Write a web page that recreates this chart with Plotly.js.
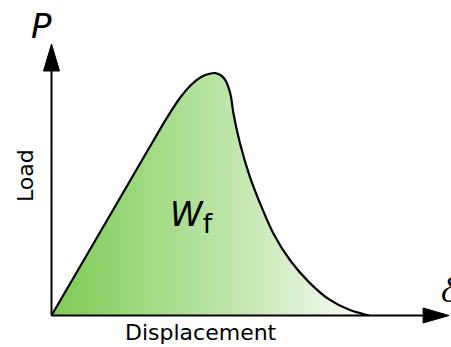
<!DOCTYPE html>
<html>
<head>
<meta charset="utf-8">
<script src="https://cdn.plot.ly/plotly-3.0.1.min.js"></script>
<style>
  html, body { margin: 0; padding: 0; background: #ffffff; }
  #chart { width: 451px; height: 347px; }
</style>
</head>
<body>
<div id="chart"></div>
<script>
// Load–displacement curve; the area under it is the work of fracture W_f
const displacement = [0, 1.4, 2.4, 2.9, 3.21, 3.5, 3.75, 3.95, 4.1, 4.24, 4.35, 4.43, 4.49,
                      4.54, 4.71, 4.96, 5.21, 5.54, 5.96, 6.46, 6.96, 7.46, 7.79, 7.96];
const load = [0, 3.2, 5.49, 6.62, 7.25, 7.7, 7.96, 8.06, 8.08, 8.0, 7.84, 7.58, 7.28,
              6.8, 5.75, 4.62, 3.75, 2.75, 1.85, 1.08, 0.52, 0.18, 0.05, 0];

const axisLabels = { x: 'Displacement', y: 'Load', xSymbol: 'δ', ySymbol: 'P' };
const areaLabel = '<i>W</i><sub><span style="font-size:27px">f</span></sub>';

// axis extents (data units)
const xMax = 9.94, yMax = 9.05;
const xLineEnd = 9.3, yLineEnd = 8.2;

const curve = {
  type: 'scatter',
  mode: 'lines',
  x: displacement,
  y: load,
  line: { color: '#000000', width: 2.2, shape: 'spline', smoothing: 0.8 },
  fill: 'tozeroy',
  fillgradient: {
    type: 'horizontal',
    colorscale: [
      [0, '#7ccb54'],
      [0.35, '#a6dc8a'],
      [0.57, '#c0e6ab'],
      [0.82, '#e3f3da'],
      [1, '#fbfdfa']
    ]
  },
  hoverinfo: 'skip',
  showlegend: false
};

const shapes = [
  // y axis
  { type: 'line', xref: 'x', yref: 'y', x0: 0, y0: 0, x1: 0, y1: yLineEnd,
    line: { color: '#000000', width: 2 } },
  { type: 'path', xref: 'x', yref: 'y',
    path: `M 0,${yMax} L -0.2,8.15 L 0.2,8.15 Z`,
    fillcolor: '#000000', line: { color: '#000000', width: 1 } },
  // x axis
  { type: 'line', xref: 'x', yref: 'y', x0: 0, y0: 0, x1: xLineEnd, y1: 0,
    line: { color: '#000000', width: 2 } },
  { type: 'path', xref: 'x', yref: 'y',
    path: `M ${xMax},0 L 9.29,0.25 L 9.29,-0.25 Z`,
    fillcolor: '#000000', line: { color: '#000000', width: 1 } }
];

const sans = 'DejaVu Sans, Verdana, sans-serif';
const annotations = [
  { x: -0.26, y: 9.65, xref: 'x', yref: 'y', text: '<i>' + axisLabels.ySymbol + '</i>',
    showarrow: false, font: { family: sans, size: 34, color: '#000000' } },
  { x: -0.66, y: 4.65, xref: 'x', yref: 'y', text: axisLabels.y, textangle: -90,
    showarrow: false, font: { family: sans, size: 22, color: '#000000' } },
  { x: 3.74, y: -0.55, xref: 'x', yref: 'y', text: axisLabels.x,
    showarrow: false, font: { family: sans, size: 22, color: '#000000' } },
  { x: 9.68, y: 0.85, xref: 'x', yref: 'y', xanchor: 'left',
    text: '<i>' + axisLabels.xSymbol + '</i>',
    showarrow: false, font: { family: 'Liberation Serif, Times New Roman, serif', size: 36, color: '#000000' } },
  { x: 3.5, y: 3.3, xref: 'x', yref: 'y', text: areaLabel,
    showarrow: false, font: { family: sans, size: 33, color: '#000000' } }
];

const layout = {
  width: 451,
  height: 347,
  margin: { l: 0, r: 0, t: 0, b: 0 },
  paper_bgcolor: '#ffffff',
  plot_bgcolor: '#ffffff',
  xaxis: { range: [-1.2875, 9.9875], visible: false, fixedrange: true },
  yaxis: { range: [-1.05, 10.5167], visible: false, fixedrange: true },
  shapes: shapes,
  annotations: annotations,
  showlegend: false
};

Plotly.newPlot('chart', [curve], layout, { displayModeBar: false, staticPlot: true });
</script>
</body>
</html>
